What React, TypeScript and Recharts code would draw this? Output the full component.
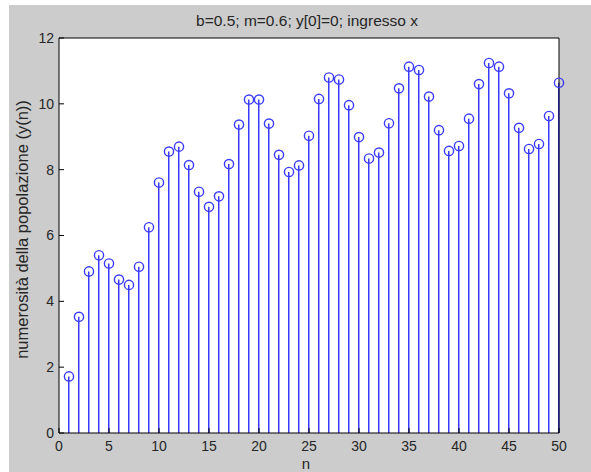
import { ComposedChart, Bar, Scatter, XAxis, YAxis, Label } from 'recharts';

// population sequence y(n), n = 1..50
const nValues = [
  1, 2, 3, 4, 5, 6, 7, 8, 9, 10,
  11, 12, 13, 14, 15, 16, 17, 18, 19, 20,
  21, 22, 23, 24, 25, 26, 27, 28, 29, 30,
  31, 32, 33, 34, 35, 36, 37, 38, 39, 40,
  41, 42, 43, 44, 45, 46, 47, 48, 49, 50,
];
const popValues = [
  1.72, 3.53, 4.91, 5.40, 5.15, 4.66, 4.50, 5.05, 6.25, 7.61,
  8.55, 8.70, 8.14, 7.33, 6.87, 7.19, 8.17, 9.37, 10.13, 10.13,
  9.40, 8.45, 7.93, 8.13, 9.03, 10.15, 10.80, 10.74, 9.96, 8.99,
  8.34, 8.52, 9.41, 10.47, 11.13, 11.03, 10.22, 9.20, 8.57, 8.72,
  9.55, 10.60, 11.24, 11.13, 10.32, 9.27, 8.63, 8.78, 9.63, 10.64,
];
const xTicks = [0, 5, 10, 15, 20, 25, 30, 35, 40, 45, 50];
const yTicks = [0, 2, 4, 6, 8, 10, 12];

const titleText = 'b=0.5; m=0.6; y[0]=0; ingresso x';
const xLabelText = 'n';
const yLabelText = 'numerosità della popolazione (y(n))';

const data = nValues.map((n, i) => ({ n, y: popValues[i] }));

const FONT = '"Liberation Sans", Arial, Helvetica, sans-serif';
const STEM = '#3a3aff';
const TEXT = '#262626';

const tickStyle = { fontSize: 14, fill: TEXT, fontFamily: FONT };

const StemHead = (p: any) => (
  <circle cx={p.cx} cy={p.cy} r={4.6} fill="none" stroke={STEM} strokeWidth={1.4} />
);

// invisible series that keeps the mirrored top / right axes (box frame) alive
const Nothing = () => <g />;

export default function App() {
  return (
    <div style={{ width: 591, height: 472, background: '#fff', position: 'relative' }}>
      <style>{'body{margin:0}'}</style>
      <div style={{ position: 'absolute', left: 9, top: 5, width: 582, height: 467, background: '#cccccc' }}>
        <ComposedChart
          width={582}
          height={467}
          data={data}
          margin={{ top: 32, right: 31, left: 10, bottom: 9 }}
          style={{ fontFamily: FONT }}
        >
          <rect x={50} y={33} width={500} height={395} fill="#fff" />
          <XAxis
            dataKey="n"
            type="number"
            domain={[0, 50]}
            ticks={xTicks}
            interval={0}
            height={30}
            stroke="#000"
            tickSize={-5}
            tickMargin={13}
            tick={tickStyle}
          >
            <Label
              content={(p: any) => (
                <text
                  x={p.viewBox.x + p.viewBox.width / 2 - 3}
                  y={464}
                  textAnchor="middle"
                  fontSize={15}
                  fill={TEXT}
                  fontFamily={FONT}
                >
                  {xLabelText}
                </text>
              )}
            />
          </XAxis>
          <XAxis
            xAxisId="top"
            orientation="top"
            type="number"
            dataKey="n"
            domain={[0, 50]}
            ticks={xTicks}
            interval={0}
            height={1}
            stroke="#000"
            tickSize={-5}
            tick={false}
          >
            <Label
              content={(p: any) => (
                <text
                  x={p.viewBox.x + p.viewBox.width / 2 - 2}
                  y={21}
                  textAnchor="middle"
                  fontSize={15.5}
                  fill={TEXT}
                  fontFamily={FONT}
                >
                  {titleText}
                </text>
              )}
            />
          </XAxis>
          <YAxis
            type="number"
            domain={[0, 12]}
            ticks={yTicks}
            interval={0}
            width={40}
            stroke="#000"
            tickSize={-5}
            tickMargin={10}
            tick={tickStyle}
          >
            <Label
              content={(p: any) => {
                const cx = 13;
                const cy = p.viewBox.y + p.viewBox.height / 2 - 6;
                return (
                  <text
                    x={cx}
                    y={cy}
                    transform={`rotate(-90 ${cx} ${cy})`}
                    textAnchor="middle"
                    dominantBaseline="central"
                    fontSize={16.5}
                    fill={TEXT}
                    fontFamily={FONT}
                  >
                    {yLabelText}
                  </text>
                );
              }}
            />
          </YAxis>
          <YAxis
            yAxisId="right"
            orientation="right"
            type="number"
            domain={[0, 12]}
            ticks={yTicks}
            interval={0}
            width={1}
            stroke="#000"
            tickSize={-5}
            tick={false}
          />
          <Bar dataKey="y" barSize={1.5} fill={STEM} isAnimationActive={false} />
          <Scatter dataKey="y" shape={StemHead} isAnimationActive={false} />
          <Scatter
            dataKey="y"
            xAxisId="top"
            yAxisId="right"
            shape={Nothing}
            legendType="none"
            isAnimationActive={false}
          />
        </ComposedChart>
      </div>
    </div>
  );
}
